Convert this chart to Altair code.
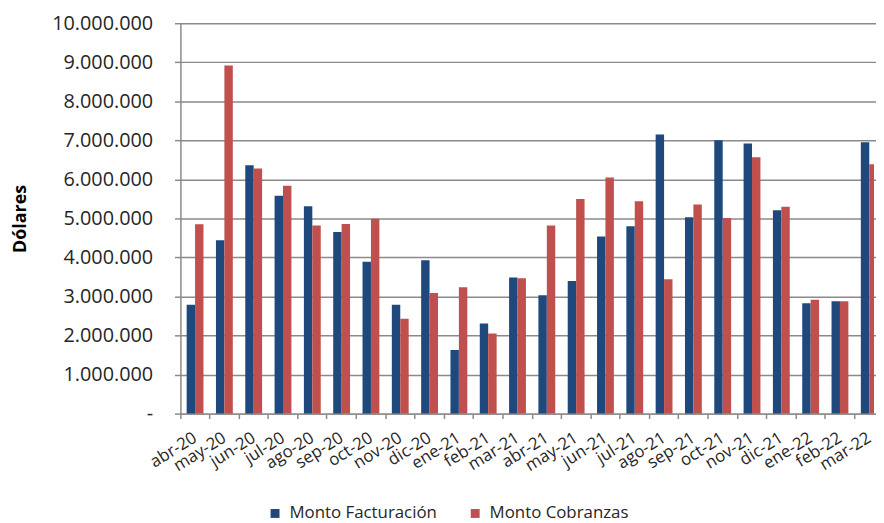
import altair as alt
import pandas as pd

meses = ["abr-20", "may-20", "jun-20", "jul-20", "ago-20", "sep-20", "oct-20", "nov-20",
         "dic-20", "ene-21", "feb-21", "mar-21", "abr-21", "may-21", "jun-21", "jul-21",
         "ago-21", "sep-21", "oct-21", "nov-21", "dic-21", "ene-22", "feb-22", "mar-22"]
facturacion = [2790000, 4440000, 6360000, 5580000, 5310000, 4650000, 3890000, 2790000,
               3930000, 1630000, 2310000, 3490000, 3030000, 3400000, 4540000, 4800000,
               7150000, 5030000, 7000000, 6920000, 5210000, 2830000, 2880000, 6950000]
cobranzas = [4850000, 8920000, 6280000, 5840000, 4820000, 4860000, 4990000, 2430000,
             3090000, 3240000, 2050000, 3470000, 4820000, 5500000, 6050000, 5440000,
             3440000, 5360000, 5010000, 6570000, 5300000, 2920000, 2880000, 6390000]
series = ["Monto Facturación", "Monto Cobranzas"]
colores = ["#1F497D", "#C0504D"]
y_ticks = [0, 1000000, 2000000, 3000000, 4000000, 5000000, 6000000, 7000000, 8000000, 9000000, 10000000]

rows = []
for i, m in enumerate(meses):
    rows.append({"mes": m, "serie": series[0], "valor": facturacion[i]})
    rows.append({"mes": m, "serie": series[1], "valor": cobranzas[i]})
df = pd.DataFrame(rows)

FONT = "Open Sans"
GRAY = "#8a8a8a"
TXT = "#262626"

chart = alt.Chart(df).mark_bar(clip=True).encode(
    x=alt.X("mes:N", sort=meses,
            scale=alt.Scale(range=[0, 710], paddingInner=0, paddingOuter=0),
            axis=alt.Axis(title=None, labelAngle=-32, labelAlign="right", labelBaseline="top",
                          bandPosition=0, tickSize=5, tickColor=GRAY, tickWidth=1.5,
                          domainColor=GRAY, domainWidth=1.5, labelPadding=11,
                          labelFont=FONT, labelFontSize=17, labelColor=TXT, labelOffset=-4)),
    xOffset=alt.XOffset("serie:N", sort=series,
                        scale=alt.Scale(paddingInner=0, paddingOuter=0.74)),
    y=alt.Y("valor:Q", scale=alt.Scale(domain=[0, 10000000]),
            axis=alt.Axis(values=y_ticks, title="Dólares",
                          labelExpr="datum.value == 0 ? '-\u00a0' : replace(format(datum.value, ','), regexp(',', 'g'), '.')",
                          labelFont=FONT, labelFontSize=20, labelColor=TXT, labelPadding=22,
                          tickSize=6, tickColor=GRAY, tickWidth=1.5,
                          domainColor=GRAY, domainWidth=1.5,
                          grid=True, gridColor=GRAY, gridWidth=1.5,
                          titleFont=FONT, titleFontSize=18, titleFontWeight="bold", titleColor="#000000",
                          titleAngle=-90, titleAlign="center", titleBaseline="middle",
                          titleX=-161, titleY=197)),
    color=alt.Color("serie:N", sort=series,
                    scale=alt.Scale(domain=series, range=colores),
                    legend=alt.Legend(orient="none", legendX=87, legendY=486, direction="horizontal",
                                      title=None, symbolType="square", symbolSize=81,
                                      symbolStrokeWidth=0, labelFont=FONT, labelFontSize=17,
                                      labelColor=TXT, columnPadding=30, labelOffset=6)),
).properties(
    width=700, height=394,
    autosize=alt.AutoSizeParams(type="none"),
    padding={"left": 174, "top": 13, "right": 2, "bottom": 108},
).configure_view(stroke="transparent")

chart.save("out.html", embed_options={"renderer": "svg", "actions": False})
